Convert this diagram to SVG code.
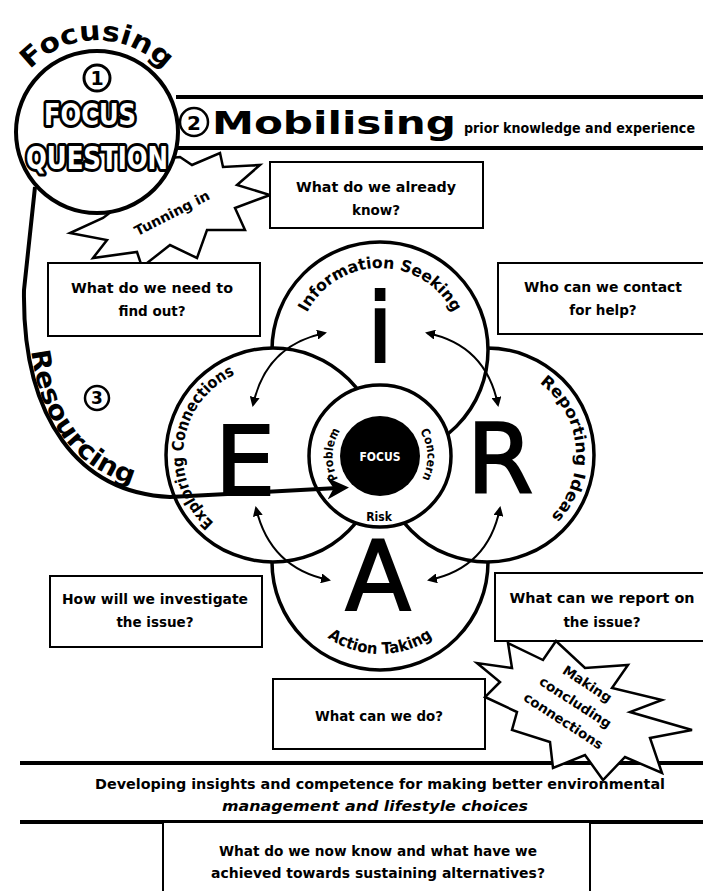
<svg xmlns="http://www.w3.org/2000/svg" width="703" height="891" viewBox="0 0 703 891">
<style>
.box{fill:#fff;stroke:#000;stroke-width:2}
.t{font-family:"DejaVu Sans","Liberation Sans",sans-serif;font-weight:bold;font-size:13.5px;text-anchor:middle;fill:#000}
.circ{fill:#fff;stroke:#000;stroke-width:3.5}
.arc{font-family:"DejaVu Sans Condensed","DejaVu Sans",sans-serif;font-weight:900;font-size:16px;fill:#000}
.arcs{font-family:"DejaVu Sans Condensed","DejaVu Sans",sans-serif;font-weight:bold;font-size:12px;fill:#000}
.big{font-family:"DejaVu Sans",sans-serif;font-size:96px;text-anchor:middle;fill:#000;stroke:#000;stroke-width:2}
.arr{fill:none;stroke:#000;stroke-width:2;marker-start:url(#ah);marker-end:url(#ah)}
.thick{fill:none;stroke:#000;stroke-width:4}
.star{fill:#fff;stroke:#000;stroke-width:2.5;stroke-linejoin:miter}
.hollow{font-family:"DejaVu Sans Condensed","DejaVu Sans",sans-serif;font-weight:bold;fill:#fff;stroke:#000;stroke-width:6;paint-order:stroke;stroke-linejoin:round;text-anchor:middle}
.hd{font-family:"DejaVu Sans","Liberation Sans",sans-serif;font-weight:bold;fill:#000}
</style>
<defs>
<marker id="ah" viewBox="0 0 10 10" refX="8" refY="5" markerWidth="5" markerHeight="5" orient="auto-start-reverse"><path d="M0,0 L10,5 L0,10 z"/></marker>
<marker id="bh" viewBox="0 0 10 10" refX="5" refY="5" markerWidth="5.5" markerHeight="5.5" orient="auto"><path d="M0,0 L10,5 L0,10 L3,5 z"/></marker>
<path id="pFocusing" d="M19.5,83.6 A91,91 0 0 1 174.5,83.6"/>
<path id="pRes" d="M29,315 C29,428 87,488 172,490"/>
<path id="pI" d="M300.8,328.8 A82,82 0 0 1 459.2,328.8"/>
<path id="pE" d="M220.6,527.9 A89,89 0 0 1 242.6,371.4"/>
<path id="pR" d="M524.6,374.3 A89,89 0 0 1 538.1,527.9"/>
<path id="pA" d="M320.9,632.5 A92,92 0 0 0 439.1,632.5"/>
<path id="pProb" d="M339.3,481 A47,47 0 0 1 341.5,429"/>
<path id="pCon" d="M418.5,429 A47,47 0 0 1 420.7,481"/>
</defs>
<rect width="703" height="891" fill="#fff"/>

<g id="mobilising-banner">
<line class="thick" x1="176" y1="97" x2="703" y2="97"/>
<line class="thick" x1="178" y1="148" x2="703" y2="148"/>
<circle cx="194" cy="122" r="14" fill="#fff" stroke="#000" stroke-width="2.5"/>
<text class="hd" x="194" y="130" font-size="20" text-anchor="middle">2</text>
<text class="hd" x="212" y="134" font-size="32" textLength="244" lengthAdjust="spacingAndGlyphs">Mobilising</text>
<text class="hd" x="464" y="133" font-size="13.5" textLength="231" lengthAdjust="spacingAndGlyphs">prior knowledge and experience</text>
</g>

<g id="tuning-in">
<polygon class="star" points="180,157 192,165 220,153 223,167 260,165 237,185 270,195 235,208 245,230 207,230 197,258 170,245 142,267 137,252 93,258 107,240 70,233 103,218 140,190 150,160"/>
<text class="hd" x="172" y="218" font-size="14" text-anchor="middle" transform="rotate(-27 172 213)">Tunning in</text>
</g>

<g id="focus-question">
<circle cx="97" cy="132" r="81" fill="#fff" stroke="#000" stroke-width="4"/>
<text class="hd" font-size="27"><textPath href="#pFocusing" startOffset="50%" text-anchor="middle" textLength="150" lengthAdjust="spacingAndGlyphs">Focusing</textPath></text>
<circle cx="97" cy="78" r="13" fill="#fff" stroke="#000" stroke-width="3"/>
<text class="hd" x="97" y="85" font-size="19" text-anchor="middle">1</text>
<text class="hollow" x="90" y="125" font-size="30" textLength="92" lengthAdjust="spacingAndGlyphs">FOCUS</text>
<text class="hollow" x="97" y="169" font-size="32" textLength="142" lengthAdjust="spacingAndGlyphs">QUESTION</text>
</g>

<g id="box-already-know">
<rect class="box" x="270" y="162" width="213" height="66"/>
<text class="t" x="376" y="192" textLength="160" lengthAdjust="spacingAndGlyphs">What do we already</text>
<text class="t" x="376" y="215">know?</text>
</g>
<g id="box-find-out">
<rect class="box" x="48" y="263" width="212" height="73"/>
<text class="t" x="152" y="293" textLength="162" lengthAdjust="spacingAndGlyphs">What do we need to</text>
<text class="t" x="152" y="316">find out?</text>
</g>
<g id="box-contact">
<rect class="box" x="498" y="263" width="215" height="71"/>
<text class="t" x="603" y="292" textLength="158" lengthAdjust="spacingAndGlyphs">Who can we contact</text>
<text class="t" x="603" y="315">for help?</text>
</g>
<g id="box-investigate">
<rect class="box" x="50" y="576" width="212" height="71"/>
<text class="t" x="155" y="604" textLength="186" lengthAdjust="spacingAndGlyphs">How will we investigate</text>
<text class="t" x="155" y="627">the issue?</text>
</g>
<g id="box-report">
<rect class="box" x="495" y="573" width="215" height="68"/>
<text class="t" x="602" y="603" textLength="185" lengthAdjust="spacingAndGlyphs">What can we report on</text>
<text class="t" x="602" y="627">the issue?</text>
</g>
<g id="box-do">
<rect class="box" x="273" y="679" width="212" height="70"/>
<text class="t" x="379" y="721" textLength="128" lengthAdjust="spacingAndGlyphs">What can we do?</text>
</g>

<g id="circle-A">
<circle class="circ" cx="380" cy="562" r="108"/>
</g>
<g id="circle-R">
<circle class="circ" cx="487" cy="455" r="107"/>
</g>
<g id="circle-i">
<circle class="circ" cx="380" cy="350" r="108"/>
</g>
<g id="circle-E">
<circle class="circ" cx="273" cy="455" r="107"/>
</g>
<g id="circle-inner">
<circle class="circ" cx="380" cy="456" r="71"/>
</g>

<g id="labels">
<text class="arc"><textPath href="#pI" startOffset="50%" text-anchor="middle" textLength="180" lengthAdjust="spacingAndGlyphs">Information Seeking</textPath></text>
<text class="arc"><textPath href="#pE" startOffset="50%" text-anchor="middle" textLength="178" lengthAdjust="spacingAndGlyphs">Exploring Connections</textPath></text>
<text class="arc"><textPath href="#pR" startOffset="50%" text-anchor="middle" textLength="152" lengthAdjust="spacingAndGlyphs">Reporting Ideas</textPath></text>
<text class="arc"><textPath href="#pA" startOffset="50%" text-anchor="middle" textLength="112" lengthAdjust="spacingAndGlyphs">Action Taking</textPath></text>
<text class="big" x="380" y="362" font-size="86">i</text>
<text class="big" x="245" y="495">E</text>
<text class="big" x="500" y="493">R</text>
<text class="big" x="378" y="610">A</text>
</g>

<g id="focus-centre">
<circle cx="380" cy="456" r="40" fill="#000"/>
<text x="380" y="461" font-family="DejaVu Sans Condensed, DejaVu Sans, sans-serif" font-weight="bold" font-size="12" fill="#fff" text-anchor="middle">FOCUS</text>
<text class="arcs"><textPath href="#pProb" startOffset="50%" text-anchor="middle">Problem</textPath></text>
<text class="arcs"><textPath href="#pCon" startOffset="50%" text-anchor="middle">Concern</textPath></text>
<text class="arcs" x="379" y="521" text-anchor="middle">Risk</text>
</g>

<g id="connectors">
<path class="arr" d="M253,405 Q266,345 325,333"/>
<path class="arr" d="M427,333 Q486,345 498,405"/>
<path class="arr" d="M256,508 Q270,568 329,580"/>
<path class="arr" d="M500,508 Q488,568 429,580"/>
<path class="thick" d="M35,187 L24,290 C22,420 80,493 170,497 L338,488" marker-end="url(#bh)" stroke-width="4.5"/>
</g>

<g id="resourcing">
<text class="hd" font-size="26"><textPath href="#pRes" startOffset="36" textLength="178" lengthAdjust="spacingAndGlyphs">Resourcing</textPath></text>
<circle cx="97" cy="398" r="12" fill="#fff" stroke="#000" stroke-width="2.5"/>
<text class="hd" x="97" y="404" font-size="17" text-anchor="middle">3</text>
</g>

<g id="outcome-band">
<line class="thick" x1="20" y1="763" x2="703" y2="763"/>
<line class="thick" x1="20" y1="822" x2="703" y2="822"/>
<text class="t" x="380" y="789" font-size="14" textLength="570" lengthAdjust="spacingAndGlyphs">Developing insights and competence for making better environmental</text>
<text class="t" x="375" y="811" font-size="14" font-style="italic" textLength="306" lengthAdjust="spacingAndGlyphs">management and lifestyle choices</text>
</g>

<g id="box-now-know">
<rect class="box" x="163" y="822" width="427" height="80"/>
<text class="t" x="378" y="856" textLength="318" lengthAdjust="spacingAndGlyphs">What do we now know and what have we</text>
<text class="t" x="378" y="878" textLength="334" lengthAdjust="spacingAndGlyphs">achieved towards sustaining alternatives?</text>
</g>

<g id="making-connections">
<polygon class="star" points="508,643 543,660 556,641 585,668 628,665 612,688 662,700 630,712 692,730 650,738 662,773 625,757 603,780 585,755 553,768 550,742 512,730 517,712 485,697 500,682 477,663 512,668"/>
<g transform="rotate(33 575 703)">
<text class="t" x="575" y="685" font-size="12.5">Making</text>
<text class="t" x="575" y="707" font-size="12.5">concluding</text>
<text class="t" x="575" y="729" font-size="12.5">connections</text>
</g>
</g>
</svg>
